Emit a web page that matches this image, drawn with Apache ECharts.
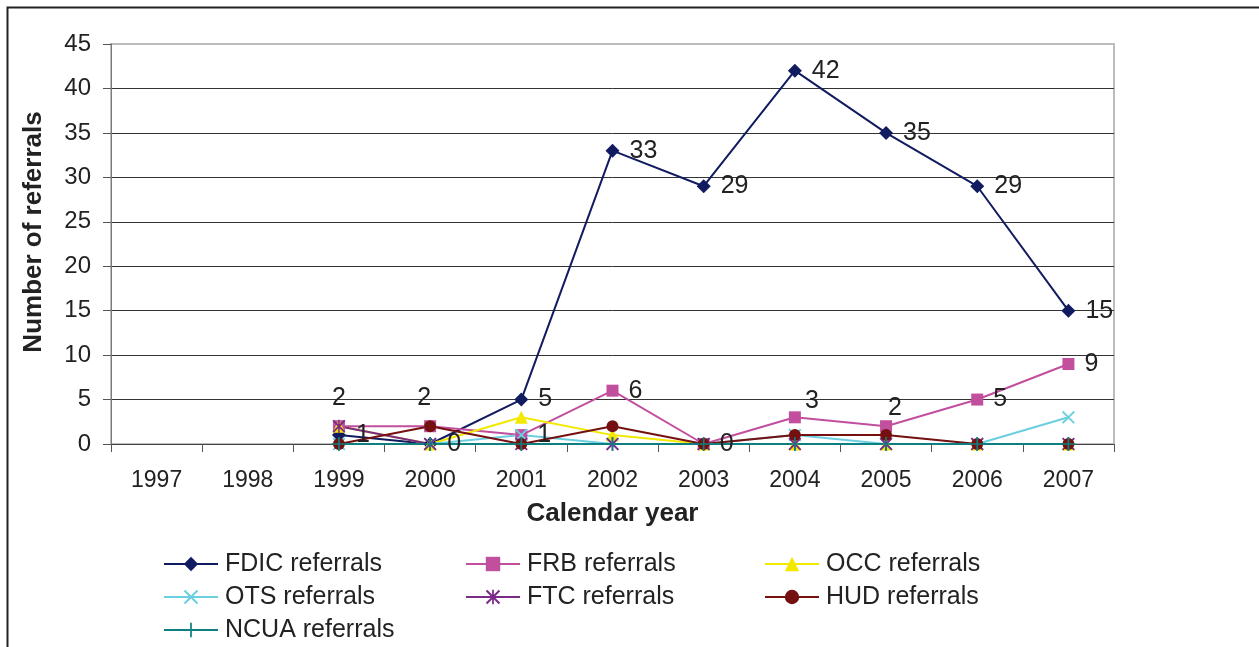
<!DOCTYPE html>
<html>
<head>
<meta charset="utf-8">
<script src="https://cdn.jsdelivr.net/npm/echarts@6/dist/echarts.min.js"></script>
<style>
  html, body { margin: 0; padding: 0; background: #ffffff; }
  #chart { width: 1259px; height: 647px; }
</style>
</head>
<body>
<div id="chart"></div>
<script>
// Referrals by agency and calendar year
const years = ['1997', '1998', '1999', '2000', '2001', '2002', '2003', '2004', '2005', '2006', '2007'];
const fdic = [null, null, 1, 0, 5, 33, 29, 42, 35, 29, 15];
const frb  = [null, null, 2, 2, 1, 6, 0, 3, 2, 5, 9];
const occ  = [null, null, 2, 0, 3, 1, 0, 0, 0, 0, 0];
const ots  = [null, null, 0, 0, 1, 0, 0, 1, 0, 0, 3];
const ftc  = [null, null, 2, 0, 0, 0, 0, 0, 0, 0, 0];
const hud  = [null, null, 0, 2, 0, 2, 0, 1, 1, 0, 0];
const ncua = [null, null, 0, 0, 0, 0, 0, 0, 0, 0, 0];
const yTicks = { min: 0, max: 45, step: 5 };

// label placement for the FRB values (style only)
const frbLabelPlacement = [null, null,
  { position: 'top', offset: [0, 0] },
  { position: 'top', offset: [-6, 0] },
  { position: 'right', offset: [0, 0] },
  { position: 'right', offset: [0, 0] },
  { position: 'right', offset: [0, 0] },
  { position: 'top', offset: [17, 12] },
  { position: 'top', offset: [9, 10] },
  { position: 'right', offset: [0, 0] },
  { position: 'right', offset: [0, 0] }
];

// legend grid: three columns, three rows
const legendCells = [
  ['FDIC referrals', 163, 562], ['FRB referrals', 465, 562], ['OCC referrals', 764, 562],
  ['OTS referrals', 163, 595],  ['FTC referrals', 465, 595], ['HUD referrals', 764, 595],
  ['NCUA referrals', 163, 628]
];

const FONT = '"Liberation Sans", Arial, sans-serif';
const TXT = '#222222';

const SYM_X = 'path://M0,1 L1,0 L5,4 L9,0 L10,1 L6,5 L10,9 L9,10 L5,6 L1,10 L0,9 L4,5 Z';
const SYM_PLUS = 'path://M4.4,0 L5.6,0 L5.6,4.4 L10,4.4 L10,5.6 L5.6,5.6 L5.6,10 L4.4,10 L4.4,5.6 L0,5.6 L0,4.4 L4.4,4.4 Z';
const SYM_STAR = 'path://M0,1 L1,0 L5,4 L9,0 L10,1 L6,5 L10,9 L9,10 L5,6 L1,10 L0,9 L4,5 Z M4.4,0 L5.6,0 L5.6,10 L4.4,10 Z';

const valueLabel = {
  show: true,
  position: 'right',
  distance: 10,
  color: TXT,
  fontFamily: FONT,
  fontSize: 25
};

function lineSeries(name, data, color, symbol, size, extra) {
  return Object.assign({
    name: name,
    type: 'line',
    data: data,
    symbol: symbol,
    symbolSize: size,
    showAllSymbol: true,
    connectNulls: false,
    lineStyle: { color: color, width: 2 },
    itemStyle: { color: color, borderWidth: 0 },
    emphasis: { disabled: true }
  }, extra || {});
}

const frbData = frb.map((v, i) => {
  if (v === null) return null;
  const p = frbLabelPlacement[i];
  return { value: v, label: { position: p.position, offset: p.offset } };
});

const series = [
  lineSeries('FDIC referrals', fdic, '#111b60', 'diamond', 14, { label: valueLabel }),
  lineSeries('FRB referrals', frbData, '#c24f9e', 'rect', 12, { label: valueLabel }),
  lineSeries('OCC referrals', occ, '#f2e800', 'triangle', 13),
  lineSeries('OTS referrals', ots, '#6ccfe0', SYM_X, 13),
  lineSeries('FTC referrals', ftc, '#7b2a88', SYM_STAR, 13),
  lineSeries('HUD referrals', hud, '#74100f', 'circle', 12),
  lineSeries('NCUA referrals', ncua, '#0d7f80', SYM_PLUS, 14)
];

const legends = legendCells.map(([name, x, yc]) => ({
  left: x,
  top: yc - 11,
  padding: 0,
  orient: 'horizontal',
  itemWidth: 54,
  itemHeight: 18,
  selectedMode: false,
  data: [name],
  textStyle: { color: TXT, fontFamily: FONT, fontSize: 25, lineHeight: 26, padding: [0, 0, 0, 2] }
}));

const chart = echarts.init(document.getElementById('chart'), null, { renderer: 'canvas' });
chart.setOption({
  animation: false,
  backgroundColor: '#ffffff',
  textStyle: { fontFamily: FONT },
  graphic: [{
    type: 'rect',
    shape: { x: 7.5, y: 7.5, width: 1262, height: 700 },
    style: { fill: 'none', stroke: '#222222', lineWidth: 2 },
    silent: true,
    z: 100
  }],
  grid: {
    left: 111, right: 145, top: 44, bottom: 203,
    show: true,
    borderColor: '#bdbdbd',
    borderWidth: 2,
    backgroundColor: 'transparent'
  },
  legend: legends,
  xAxis: {
    type: 'category',
    data: years,
    boundaryGap: true,
    name: 'Calendar year',
    nameLocation: 'middle',
    nameGap: 57,
    nameTextStyle: { color: TXT, fontFamily: FONT, fontSize: 26, fontWeight: 'bold' },
    axisLine: { show: true, lineStyle: { color: '#444444', width: 1 } },
    axisTick: { show: true, interval: 0, length: 8, lineStyle: { color: '#555555' } },
    axisLabel: { interval: 0, margin: 25, color: TXT, fontFamily: FONT, fontSize: 23 },
    splitLine: { show: false }
  },
  yAxis: {
    type: 'value',
    min: yTicks.min,
    max: yTicks.max,
    interval: yTicks.step,
    name: 'Number of referrals',
    nameLocation: 'middle',
    nameRotate: 90,
    nameGap: 64,
    nameTextStyle: { color: TXT, fontFamily: FONT, fontSize: 26, fontWeight: 'bold', padding: [0, 0, 0, 24] },
    axisLine: { show: true, lineStyle: { color: '#7a7a7a', width: 1 } },
    axisTick: { show: true, length: 8, lineStyle: { color: '#555555' } },
    axisLabel: { margin: 20, color: TXT, fontFamily: FONT, fontSize: 24 },
    splitLine: { show: true, showMaxLine: false, lineStyle: { color: '#333333', width: 1 } }
  },
  series: series
});
</script>
</body>
</html>
